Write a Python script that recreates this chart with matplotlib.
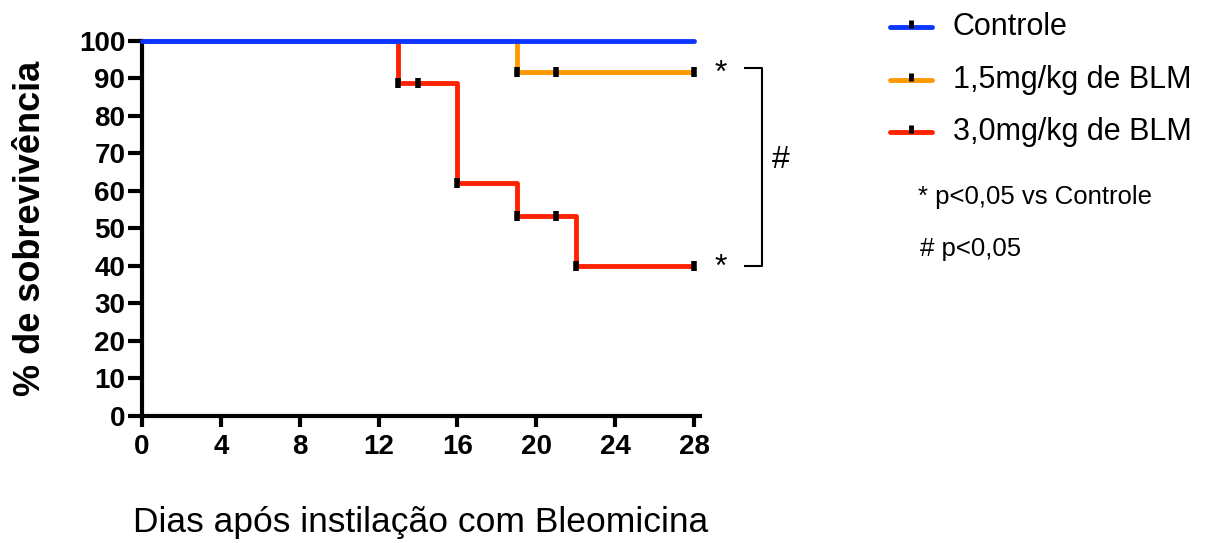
import matplotlib.pyplot as plt
from matplotlib.lines import Line2D

plt.rcParams['font.family'] = ['Liberation Sans', 'DejaVu Sans']

# survival curves (Kaplan-Meier steps)
controle_t = [0, 28]
controle_s = [100, 100]
blm15_t = [0, 19, 28]
blm15_s = [100, 91.7, 91.7]
blm30_t = [0, 13, 16, 19, 22, 28]
blm30_s = [100, 88.9, 62.2, 53.3, 40, 40]

# censored observations
blm15_cens_t = [19, 21, 28]
blm15_cens_s = [91.7, 91.7, 91.7]
blm30_cens_t = [13, 14, 16, 19, 21, 22, 28]
blm30_cens_s = [88.9, 88.9, 62.2, 53.3, 53.3, 40, 40]

labels = ['Controle', '1,5mg/kg de BLM', '3,0mg/kg de BLM']
colors = ['#0A36FF', '#FF9900', '#FF2200']

fig = plt.figure(figsize=(12.06, 5.43), dpi=100)
ax = fig.add_axes([0.1177, 0.2339, 0.4627, 0.6906])

ax.step(blm30_t, blm30_s, where='post', color=colors[2], lw=3.5, zorder=2,
        solid_capstyle='butt', clip_on=False)
ax.step(blm15_t, blm15_s, where='post', color=colors[1], lw=3.5, zorder=2,
        solid_capstyle='butt', clip_on=False)
ax.step(controle_t, controle_s, where='post', color=colors[0], lw=3.5, zorder=3,
        solid_capstyle='round', clip_on=False)

ax.plot(blm15_cens_t, blm15_cens_s, ls='none', marker='|', ms=7, mew=4,
        color='black', zorder=4, clip_on=False)
ax.plot(blm30_cens_t, blm30_cens_s, ls='none', marker='|', ms=7, mew=4,
        color='black', zorder=4, clip_on=False)

ax.set_xlim(0, 28.3)
ax.set_ylim(0, 100)
ax.set_xticks(range(0, 29, 4))
ax.set_yticks(range(0, 101, 10))
for s in ['top', 'right']:
    ax.spines[s].set_visible(False)
for s in ['left', 'bottom']:
    ax.spines[s].set_linewidth(3)
ax.tick_params(axis='both', direction='out', width=3, labelsize=20)
ax.tick_params(axis='x', length=8, pad=5)
ax.tick_params(axis='y', length=10, pad=2)
for lab in ax.get_xticklabels() + ax.get_yticklabels():
    lab.set_fontweight('bold')

ax.set_ylabel('% de sobrevivência', fontsize=26, fontweight='bold', labelpad=22)
ax.set_xlabel('Dias após instilação com Bleomicina', fontsize=25.5, labelpad=33)

# significance annotations
fig.text(721 / 1206, 1 - 74 / 543, '*', fontsize=23, ha='center', va='center')
fig.text(721 / 1206, 1 - 268 / 543, '*', fontsize=23, ha='center', va='center')
fig.text(781 / 1206, 1 - 160 / 543, '#', fontsize=23, ha='center', va='center')
bx = [745 / 1206, 762 / 1206, 762 / 1206, 745 / 1206]
by = [1 - 68 / 543, 1 - 68 / 543, 1 - 266 / 543, 1 - 266 / 543]
fig.add_artist(Line2D(bx, by, color='black', lw=1.5, transform=fig.transFigure))

# legend
for i, (lab, c) in enumerate(zip(labels, colors)):
    yy = 1 - [27, 80, 132][i] / 543
    fig.add_artist(Line2D([890 / 1206, 932 / 1206], [yy, yy], color=c, lw=3.5,
                          solid_capstyle='round', transform=fig.transFigure))
    fig.add_artist(Line2D([911 / 1206], [yy + 0.006], color='black', marker='|',
                          ms=6, mew=3.5, ls='none', transform=fig.transFigure))
    fig.text(953 / 1206, yy, lab, fontsize=22, ha='left', va='center')

fig.text(918 / 1206, 1 - 197 / 543, '* p<0,05 vs Controle', fontsize=18.5,
         ha='left', va='center')
fig.text(920 / 1206, 1 - 249 / 543, '# p<0,05', fontsize=18.5,
         ha='left', va='center')

fig.savefig('out.png', dpi=100)
